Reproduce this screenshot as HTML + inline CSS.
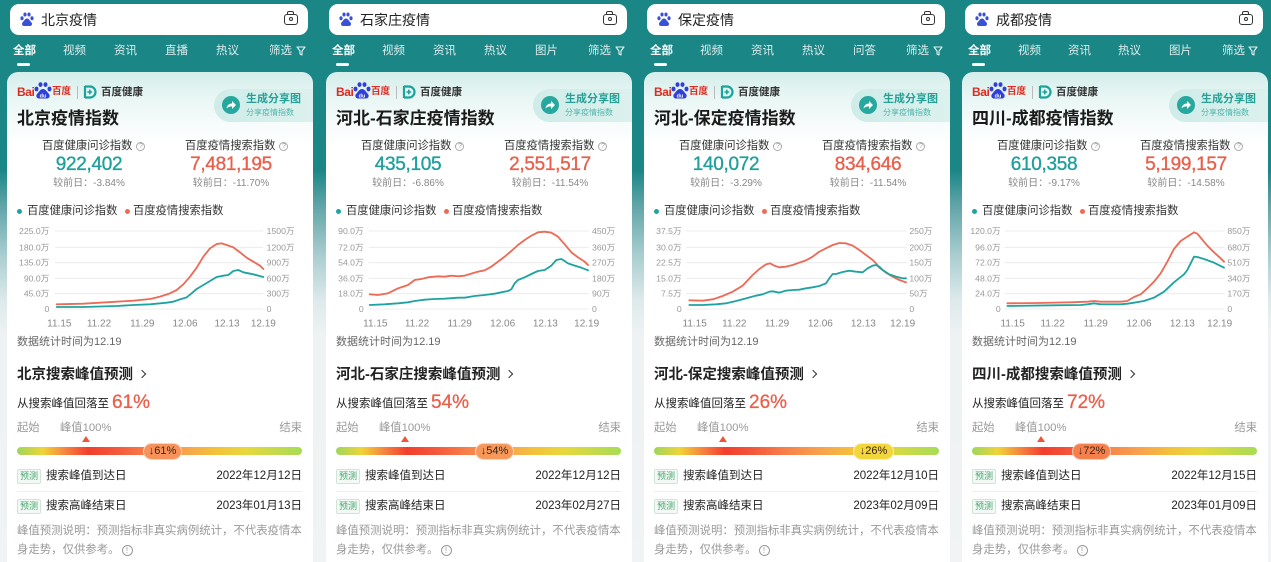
<!DOCTYPE html>
<html><head><meta charset="utf-8">
<style>
*{margin:0;padding:0;box-sizing:border-box}
html,body{width:1271px;height:562px;overflow:hidden}
body{position:relative;font-family:"Liberation Sans","Noto Sans CJK SC",sans-serif;background:linear-gradient(180deg,#1b8686 0,#1b8686 170px,#5fa4a7 205px,#a9cdd0 255px,#dde9eb 300px,#eef2f3 335px,#f1f3f4 100%)}
.p{position:absolute;top:0;width:317px;height:562px;overflow:hidden}
.t{position:absolute;white-space:nowrap;line-height:20px}
.sb{position:absolute;left:10px;top:4px;width:298px;height:31px;background:#fff;border-radius:9px}
.sb .paw{position:absolute;left:10px;top:8px}
.sb .q{position:absolute;left:31px;top:6px;font-size:14px;line-height:20px;color:#222}
.cam{position:absolute;left:274px;top:10px;width:14px;height:11px;border:1.6px solid #333;border-radius:3px}
.cam:before{content:"";position:absolute;left:2px;top:-4px;width:5px;height:3px;border:1.5px solid #333;border-bottom:none;border-radius:2px 2px 0 0}
.cam i{position:absolute;left:3.5px;top:2px;width:4px;height:4px;border:1.3px solid #333;border-radius:50%}
.tab{position:absolute;top:41px;font-size:11.5px;line-height:20px;color:rgba(255,255,255,.85);white-space:nowrap}
.tab.on{color:#fff;font-weight:bold}
.ul{position:absolute;left:17px;top:63px;width:13px;height:2.5px;background:#fff;border-radius:2px}
.card{position:absolute;left:7px;top:72px;width:306px;height:490px;border-radius:11px 11px 0 0;background:linear-gradient(180deg,#d4eeeb 0,#e8f6f4 25px,#f8fcfc 55px,#fff 75px)}
.bai{position:absolute;left:17px;top:85px;font-size:12px;font-weight:bold;color:#de2a1f;line-height:14px;letter-spacing:-.4px}
.bd{position:absolute;left:52px;top:85px;font-size:9.5px;font-weight:bold;color:#de2a1f;line-height:14px}
.sep{position:absolute;left:77px;top:86px;width:1px;height:13px;background:#bbb}
.hk{position:absolute;left:101px;top:85px;font-size:10.5px;font-weight:bold;color:#333;line-height:14px}
.ttl{position:absolute;left:17px;top:108px;font-size:17px;font-weight:bold;color:#1a1a1a;line-height:22px;white-space:nowrap}
.pill{position:absolute;left:214px;top:89px;width:99px;height:33px;border-radius:17px 0 0 17px;background:linear-gradient(90deg,#cfece8,#dcf1ee)}
.pc{position:absolute;left:222px;top:96px;width:18px;height:18px;border-radius:50%;background:#27a79e}
.s1{position:absolute;left:246px;top:91px;font-size:11px;font-weight:bold;color:#27a198;line-height:16px;white-space:nowrap}
.s2{position:absolute;left:246px;top:107px;font-size:8px;color:#53b5ac;line-height:12px;white-space:nowrap}
.ml{font-size:11.3px;color:#333;top:136px}
.qi{display:inline-block;width:9px;height:9px;border:1px solid #aaa;border-radius:50%;font-size:7px;line-height:7px;text-align:center;color:#999;vertical-align:1px;margin-left:4px}
.v{position:absolute;top:153px;width:130px;text-align:center;font-size:19px;line-height:24px;letter-spacing:-.3px;-webkit-text-stroke:.35px currentColor}
.v1{color:#1f9f9c}.v2{color:#e8604c}
.sub{position:absolute;top:176px;width:130px;text-align:center;font-size:10px;line-height:16px;color:#888}
.lg{top:201px;font-size:11.3px;color:#333}
.dot{position:absolute;top:209px;width:5px;height:5px;border-radius:50%}
.ch{position:absolute;left:0;top:195px}
.dt{left:17px;top:332px;font-size:11px;color:#666}
.sec{left:17px;top:364px;font-size:14.5px;font-weight:bold;color:#222;line-height:22px}
.chev{display:inline-block;width:6px;height:6px;border-right:1.6px solid #333;border-top:1.6px solid #333;transform:rotate(45deg);margin-left:6px;vertical-align:2px}
.dec{left:17px;top:391px;font-size:11.5px;color:#222;line-height:24px}
.dec b{font-size:19px;color:#e8604c;font-weight:normal;-webkit-text-stroke:.3px #e8604c;margin-left:3px;vertical-align:-1px}
.lb{top:418px;font-size:11.3px;color:#999}
.tri{position:absolute;left:82px;top:436px;width:0;height:0;border-left:4px solid transparent;border-right:4px solid transparent;border-bottom:6px solid #f0553a}
.bar{position:absolute;left:17px;top:447px;width:285px;height:8px;border-radius:4px;background:linear-gradient(90deg,#9dd65c 0%,#f0d438 9%,#f67a3e 18%,#f23e2d 25%,#f4543a 34%,#f7804a 46%,#f8a04e 58%,#f3c23b 70%,#e8d83c 80%,#a6dc56 100%)}
.bdg{position:absolute;top:443px;height:17px;border-radius:9px;font-size:11px;line-height:15px;text-align:center;color:#3a2418;border:1px solid rgba(255,255,255,.6)}
.tag{position:absolute;left:17px;width:24px;height:15px;border:1px solid #cfe6d6;background:#f3faf5;border-radius:2px;font-size:9px;line-height:13px;text-align:center;color:#46a56e}
.rt{left:46px;font-size:11.5px;color:#222}
.rd{right:15px;font-size:11.5px;color:#222}
.dv{position:absolute;left:17px;top:491px;width:285px;height:1px;background:#eee}
.nt{left:17px;font-size:11.4px;color:#999}
.ii{display:inline-block;width:11px;height:11px;border:1px solid #999;border-radius:50%;font-size:8px;line-height:9px;text-align:center;color:#999;vertical-align:0;margin-left:2px}
</style></head><body>

<!-- ================= PANEL 1 ================= -->
<div class="p" style="left:0">
<div class="sb"><svg class="paw" width="14" height="15" viewBox="0 0 14 15"><g fill="#3a50d6"><ellipse cx="2" cy="6.2" rx="1.6" ry="2"/><ellipse cx="5" cy="2.5" rx="1.6" ry="2"/><ellipse cx="9" cy="2.5" rx="1.6" ry="2"/><ellipse cx="12" cy="6.2" rx="1.6" ry="2"/><path d="M7 6.5c-2 0-3 2.5-4.5 4-1 1.2-.5 3.5 1.5 3.5h6c2 0 2.5-2.3 1.5-3.5C10 9 9 6.5 7 6.5z"/></g></svg><span class="q">北京疫情</span><div class="cam"><i></i></div></div>
<div class="tab on" style="left:13px">全部</div><div class="ul"></div>
<div class="tab" style="left:63px">视频</div><div class="tab" style="left:114px">资讯</div><div class="tab" style="left:165px">直播</div><div class="tab" style="left:216px">热议</div><div class="tab" style="left:269px">筛选</div>
<svg style="position:absolute;left:296px;top:46px" width="10" height="10" viewBox="0 0 10 10"><path d="M1 1h8L6 5v4L4 8V5z" fill="none" stroke="#e6f3f3" stroke-width="1.1" stroke-linejoin="round"/></svg>
<div class="card"></div>
<div class="bai">Bai</div>
<svg style="position:absolute;left:34px;top:82px" width="18" height="17" viewBox="0 0 18 17"><g fill="#2f3fd8"><ellipse cx="2.5" cy="7" rx="2" ry="2.4"/><ellipse cx="6.5" cy="2.6" rx="2" ry="2.4"/><ellipse cx="11.5" cy="2.6" rx="2" ry="2.4"/><ellipse cx="15.5" cy="7" rx="2" ry="2.4"/><path d="M9 7c-2.6 0-4 3-6 5-1.3 1.5-.6 4.5 2 4.5h8c2.6 0 3.3-3 2-4.5-2-2-3.4-5-6-5z"/></g><text x="9" y="15.3" font-size="5.5" fill="#fff" text-anchor="middle" font-family="Liberation Sans" font-weight="bold">du</text></svg>
<div class="bd">百度</div><div class="sep"></div>
<svg style="position:absolute;left:83px;top:85px" width="14" height="14" viewBox="0 0 14 14"><path d="M2 1.5h5a5.5 5.5 0 0 1 0 11H2" fill="none" stroke="#1aa39a" stroke-width="2.2"/><path d="M2 1v12" stroke="#1aa39a" stroke-width="2.2"/><path d="M6.8 4.6v4.8M4.4 7h4.8" stroke="#1aa39a" stroke-width="1.6"/></svg>
<div class="hk">百度健康</div>
<div class="pill"></div><div class="pc"><svg width="18" height="18" viewBox="0 0 18 18"><path d="M4.5 12.5C5 9 7.5 7.5 10 7.5V5l4 4-4 4v-2.6c-2.3 0-4 .6-5.5 2.1z" fill="#fff"/></svg></div>
<div class="s1">生成分享图</div><div class="s2">分享疫情指数</div>
<div class="ttl">北京疫情指数</div>
<div class="t ml" style="left:42px">百度健康问诊指数<span class="qi">?</span></div>
<div class="t ml" style="left:185px">百度疫情搜索指数<span class="qi">?</span></div>
<div class="v v1" style="left:24px">922,402</div><div class="v v2" style="left:166px">7,481,195</div>
<div class="sub" style="left:24px">较前日：-3.84%</div><div class="sub" style="left:166px">较前日：-11.70%</div>
<div class="dot" style="left:17px;background:#1fa3a0"></div><div class="t lg" style="left:27px">百度健康问诊指数</div>
<div class="dot" style="left:125px;background:#ec6b56"></div><div class="t lg" style="left:133px">百度疫情搜索指数</div>
<svg class="ch" width="317" height="140" viewBox="0 0 951 420">
<g stroke="#ececec" stroke-width="3"><line x1="165" y1="108" x2="790" y2="108"/><line x1="165" y1="157" x2="790" y2="157"/><line x1="165" y1="203" x2="790" y2="203"/><line x1="165" y1="250" x2="790" y2="250"/><line x1="165" y1="296" x2="790" y2="296"/><line x1="165" y1="342" x2="790" y2="342"/></g>
<g font-family="Liberation Sans,Noto Sans CJK SC,sans-serif" font-size="26" fill="#999"><g text-anchor="end"><text x="148" y="117">225.0万</text><text x="148" y="166">180.0万</text><text x="148" y="212">135.0万</text><text x="148" y="259">90.0万</text><text x="148" y="305">45.0万</text><text x="148" y="351">0</text></g>
<text x="800" y="117">1500万</text><text x="800" y="166">1200万</text><text x="800" y="212">900万</text><text x="800" y="259">600万</text><text x="800" y="305">300万</text><text x="800" y="351">0</text>
<g font-size="30" fill="#888" text-anchor="middle"><text x="178" y="395">11.15</text><text x="297" y="395">11.22</text><text x="427" y="395">11.29</text><text x="555" y="395">12.06</text><text x="681" y="395">12.13</text><text x="790" y="395">12.19</text></g></g>
<polyline fill="none" stroke="#ec6b56" stroke-width="5.5" stroke-linejoin="round" stroke-linecap="round" points="170,328 250,326 350,320 400,317 450,312 480,305 510,295 530,285 550,268 570,245 590,218 610,185 630,160 650,147 665,145 680,150 700,157 720,172 740,188 760,200 780,212 790,222"/>
<polyline fill="none" stroke="#1fa3a0" stroke-width="5.5" stroke-linejoin="round" stroke-linecap="round" points="170,336 250,336 350,333 400,330 450,328 500,323 520,320 540,313 560,307 575,295 590,282 610,270 630,258 650,246 670,242 685,240 700,228 715,225 730,232 745,235 760,238 790,246"/>
</svg>
<div class="t dt">数据统计时间为12.19</div>
<div class="t sec">北京搜索峰值预测<span class="chev"></span></div>
<div class="t dec">从搜索峰值回落至<b>61%</b></div>
<div class="t lb" style="left:17px">起始</div><div class="t lb" style="left:60px">峰值100%</div><div class="t lb" style="right:15px">结束</div>
<div class="tri"></div><div class="bar"></div>
<div class="bdg" style="left:143px;width:39px;background:#f6925a">↓61%</div>
<div class="tag" style="top:469px">预测</div><div class="t rt" style="top:466px">搜索峰值到达日</div><div class="t rd" style="top:466px">2022年12月12日</div>
<div class="dv"></div>
<div class="tag" style="top:499px">预测</div><div class="t rt" style="top:496px">搜索高峰结束日</div><div class="t rd" style="top:496px">2023年01月13日</div>
<div class="t nt" style="top:521px">峰值预测说明：预测指标非真实病例统计，不代表疫情本</div>
<div class="t nt" style="top:540px">身走势，仅供参考。<span class="ii">!</span></div>
</div>

<!-- ================= PANEL 2 ================= -->
<div class="p" style="left:319px">
<div class="sb"><svg class="paw" width="14" height="15" viewBox="0 0 14 15"><g fill="#3a50d6"><ellipse cx="2" cy="6.2" rx="1.6" ry="2"/><ellipse cx="5" cy="2.5" rx="1.6" ry="2"/><ellipse cx="9" cy="2.5" rx="1.6" ry="2"/><ellipse cx="12" cy="6.2" rx="1.6" ry="2"/><path d="M7 6.5c-2 0-3 2.5-4.5 4-1 1.2-.5 3.5 1.5 3.5h6c2 0 2.5-2.3 1.5-3.5C10 9 9 6.5 7 6.5z"/></g></svg><span class="q">石家庄疫情</span><div class="cam"><i></i></div></div>
<div class="tab on" style="left:13px">全部</div><div class="ul"></div>
<div class="tab" style="left:63px">视频</div><div class="tab" style="left:114px">资讯</div><div class="tab" style="left:165px">热议</div><div class="tab" style="left:216px">图片</div><div class="tab" style="left:269px">筛选</div>
<svg style="position:absolute;left:296px;top:46px" width="10" height="10" viewBox="0 0 10 10"><path d="M1 1h8L6 5v4L4 8V5z" fill="none" stroke="#e6f3f3" stroke-width="1.1" stroke-linejoin="round"/></svg>
<div class="card"></div>
<div class="bai">Bai</div>
<svg style="position:absolute;left:34px;top:82px" width="18" height="17" viewBox="0 0 18 17"><g fill="#2f3fd8"><ellipse cx="2.5" cy="7" rx="2" ry="2.4"/><ellipse cx="6.5" cy="2.6" rx="2" ry="2.4"/><ellipse cx="11.5" cy="2.6" rx="2" ry="2.4"/><ellipse cx="15.5" cy="7" rx="2" ry="2.4"/><path d="M9 7c-2.6 0-4 3-6 5-1.3 1.5-.6 4.5 2 4.5h8c2.6 0 3.3-3 2-4.5-2-2-3.4-5-6-5z"/></g><text x="9" y="15.3" font-size="5.5" fill="#fff" text-anchor="middle" font-family="Liberation Sans" font-weight="bold">du</text></svg>
<div class="bd">百度</div><div class="sep"></div>
<svg style="position:absolute;left:83px;top:85px" width="14" height="14" viewBox="0 0 14 14"><path d="M2 1.5h5a5.5 5.5 0 0 1 0 11H2" fill="none" stroke="#1aa39a" stroke-width="2.2"/><path d="M2 1v12" stroke="#1aa39a" stroke-width="2.2"/><path d="M6.8 4.6v4.8M4.4 7h4.8" stroke="#1aa39a" stroke-width="1.6"/></svg>
<div class="hk">百度健康</div>
<div class="pill"></div><div class="pc"><svg width="18" height="18" viewBox="0 0 18 18"><path d="M4.5 12.5C5 9 7.5 7.5 10 7.5V5l4 4-4 4v-2.6c-2.3 0-4 .6-5.5 2.1z" fill="#fff"/></svg></div>
<div class="s1">生成分享图</div><div class="s2">分享疫情指数</div>
<div class="ttl">河北-石家庄疫情指数</div>
<div class="t ml" style="left:42px">百度健康问诊指数<span class="qi">?</span></div>
<div class="t ml" style="left:185px">百度疫情搜索指数<span class="qi">?</span></div>
<div class="v v1" style="left:24px">435,105</div><div class="v v2" style="left:166px">2,551,517</div>
<div class="sub" style="left:24px">较前日：-6.86%</div><div class="sub" style="left:166px">较前日：-11.54%</div>
<div class="dot" style="left:17px;background:#1fa3a0"></div><div class="t lg" style="left:27px">百度健康问诊指数</div>
<div class="dot" style="left:125px;background:#ec6b56"></div><div class="t lg" style="left:133px">百度疫情搜索指数</div>
<svg class="ch" style="left:-1px" width="317" height="140" viewBox="0 0 951 420">
<g stroke="#ececec" stroke-width="3"><line x1="152" y1="108" x2="812" y2="108"/><line x1="152" y1="157" x2="812" y2="157"/><line x1="152" y1="203" x2="812" y2="203"/><line x1="152" y1="250" x2="812" y2="250"/><line x1="152" y1="296" x2="812" y2="296"/><line x1="152" y1="342" x2="812" y2="342"/></g>
<g font-family="Liberation Sans,Noto Sans CJK SC,sans-serif" font-size="26" fill="#999"><g text-anchor="end"><text x="137" y="117">90.0万</text><text x="137" y="166">72.0万</text><text x="137" y="212">54.0万</text><text x="137" y="259">36.0万</text><text x="137" y="305">18.0万</text><text x="137" y="351">0</text></g>
<text x="822" y="117">450万</text><text x="822" y="166">360万</text><text x="822" y="212">270万</text><text x="822" y="259">180万</text><text x="822" y="305">90万</text><text x="822" y="351">0</text>
<g font-size="30" fill="#888" text-anchor="middle"><text x="172" y="395">11.15</text><text x="297" y="395">11.22</text><text x="425" y="395">11.29</text><text x="554" y="395">12.06</text><text x="682" y="395">12.13</text><text x="806" y="395">12.19</text></g></g>
<polyline fill="none" stroke="#ec6b56" stroke-width="5.5" stroke-linejoin="round" stroke-linecap="round" points="155,298 180,300 210,295 240,280 270,270 290,255 310,252 330,247 360,244 380,245 400,242 420,244 440,242 460,236 480,230 500,226 520,215 540,200 560,185 580,168 600,150 620,135 640,122 660,112 680,110 700,113 720,125 740,148 760,172 780,187 800,200 810,210"/>
<polyline fill="none" stroke="#1fa3a0" stroke-width="5.5" stroke-linejoin="round" stroke-linecap="round" points="155,330 200,328 240,325 270,322 290,318 320,314 350,312 380,311 420,308 440,308 470,303 500,300 530,296 550,292 570,288 580,283 590,265 600,255 620,247 640,237 660,228 680,225 700,212 715,195 730,192 740,198 750,205 770,212 790,218 810,226"/>
</svg>
<div class="t dt">数据统计时间为12.19</div>
<div class="t sec">河北-石家庄搜索峰值预测<span class="chev"></span></div>
<div class="t dec">从搜索峰值回落至<b>54%</b></div>
<div class="t lb" style="left:17px">起始</div><div class="t lb" style="left:60px">峰值100%</div><div class="t lb" style="right:15px">结束</div>
<div class="tri"></div><div class="bar"></div>
<div class="bdg" style="left:156px;width:39px;background:#f6985a">↓54%</div>
<div class="tag" style="top:469px">预测</div><div class="t rt" style="top:466px">搜索峰值到达日</div><div class="t rd" style="top:466px">2022年12月12日</div>
<div class="dv"></div>
<div class="tag" style="top:499px">预测</div><div class="t rt" style="top:496px">搜索高峰结束日</div><div class="t rd" style="top:496px">2023年02月27日</div>
<div class="t nt" style="top:521px">峰值预测说明：预测指标非真实病例统计，不代表疫情本</div>
<div class="t nt" style="top:540px">身走势，仅供参考。<span class="ii">!</span></div>
</div>

<!-- ================= PANEL 3 ================= -->
<div class="p" style="left:637px">
<div class="sb"><svg class="paw" width="14" height="15" viewBox="0 0 14 15"><g fill="#3a50d6"><ellipse cx="2" cy="6.2" rx="1.6" ry="2"/><ellipse cx="5" cy="2.5" rx="1.6" ry="2"/><ellipse cx="9" cy="2.5" rx="1.6" ry="2"/><ellipse cx="12" cy="6.2" rx="1.6" ry="2"/><path d="M7 6.5c-2 0-3 2.5-4.5 4-1 1.2-.5 3.5 1.5 3.5h6c2 0 2.5-2.3 1.5-3.5C10 9 9 6.5 7 6.5z"/></g></svg><span class="q">保定疫情</span><div class="cam"><i></i></div></div>
<div class="tab on" style="left:13px">全部</div><div class="ul"></div>
<div class="tab" style="left:63px">视频</div><div class="tab" style="left:114px">资讯</div><div class="tab" style="left:165px">热议</div><div class="tab" style="left:216px">问答</div><div class="tab" style="left:269px">筛选</div>
<svg style="position:absolute;left:296px;top:46px" width="10" height="10" viewBox="0 0 10 10"><path d="M1 1h8L6 5v4L4 8V5z" fill="none" stroke="#e6f3f3" stroke-width="1.1" stroke-linejoin="round"/></svg>
<div class="card"></div>
<div class="bai">Bai</div>
<svg style="position:absolute;left:34px;top:82px" width="18" height="17" viewBox="0 0 18 17"><g fill="#2f3fd8"><ellipse cx="2.5" cy="7" rx="2" ry="2.4"/><ellipse cx="6.5" cy="2.6" rx="2" ry="2.4"/><ellipse cx="11.5" cy="2.6" rx="2" ry="2.4"/><ellipse cx="15.5" cy="7" rx="2" ry="2.4"/><path d="M9 7c-2.6 0-4 3-6 5-1.3 1.5-.6 4.5 2 4.5h8c2.6 0 3.3-3 2-4.5-2-2-3.4-5-6-5z"/></g><text x="9" y="15.3" font-size="5.5" fill="#fff" text-anchor="middle" font-family="Liberation Sans" font-weight="bold">du</text></svg>
<div class="bd">百度</div><div class="sep"></div>
<svg style="position:absolute;left:83px;top:85px" width="14" height="14" viewBox="0 0 14 14"><path d="M2 1.5h5a5.5 5.5 0 0 1 0 11H2" fill="none" stroke="#1aa39a" stroke-width="2.2"/><path d="M2 1v12" stroke="#1aa39a" stroke-width="2.2"/><path d="M6.8 4.6v4.8M4.4 7h4.8" stroke="#1aa39a" stroke-width="1.6"/></svg>
<div class="hk">百度健康</div>
<div class="pill"></div><div class="pc"><svg width="18" height="18" viewBox="0 0 18 18"><path d="M4.5 12.5C5 9 7.5 7.5 10 7.5V5l4 4-4 4v-2.6c-2.3 0-4 .6-5.5 2.1z" fill="#fff"/></svg></div>
<div class="s1">生成分享图</div><div class="s2">分享疫情指数</div>
<div class="ttl">河北-保定疫情指数</div>
<div class="t ml" style="left:42px">百度健康问诊指数<span class="qi">?</span></div>
<div class="t ml" style="left:185px">百度疫情搜索指数<span class="qi">?</span></div>
<div class="v v1" style="left:24px">140,072</div><div class="v v2" style="left:166px">834,646</div>
<div class="sub" style="left:24px">较前日：-3.29%</div><div class="sub" style="left:166px">较前日：-11.54%</div>
<div class="dot" style="left:17px;background:#1fa3a0"></div><div class="t lg" style="left:27px">百度健康问诊指数</div>
<div class="dot" style="left:125px;background:#ec6b56"></div><div class="t lg" style="left:133px">百度疫情搜索指数</div>
<svg class="ch" style="left:-1px" width="317" height="140" viewBox="0 0 951 420">
<g stroke="#ececec" stroke-width="3"><line x1="150" y1="108" x2="812" y2="108"/><line x1="150" y1="157" x2="812" y2="157"/><line x1="150" y1="203" x2="812" y2="203"/><line x1="150" y1="250" x2="812" y2="250"/><line x1="150" y1="296" x2="812" y2="296"/><line x1="150" y1="342" x2="812" y2="342"/></g>
<g font-family="Liberation Sans,Noto Sans CJK SC,sans-serif" font-size="26" fill="#999"><g text-anchor="end"><text x="137" y="117">37.5万</text><text x="137" y="166">30.0万</text><text x="137" y="212">22.5万</text><text x="137" y="259">15.0万</text><text x="137" y="305">7.5万</text><text x="137" y="351">0</text></g>
<text x="820" y="117">250万</text><text x="820" y="166">200万</text><text x="820" y="212">150万</text><text x="820" y="259">100万</text><text x="820" y="305">50万</text><text x="820" y="351">0</text>
<g font-size="30" fill="#888" text-anchor="middle"><text x="176" y="395">11.15</text><text x="295" y="395">11.22</text><text x="423" y="395">11.29</text><text x="553" y="395">12.06</text><text x="682" y="395">12.13</text><text x="800" y="395">12.19</text></g></g>
<polyline fill="none" stroke="#ec6b56" stroke-width="5.5" stroke-linejoin="round" stroke-linecap="round" points="160,316 200,317 230,313 260,303 290,290 320,272 350,240 370,222 390,208 402,205 415,212 430,217 450,215 470,210 490,203 510,196 530,185 550,170 570,160 590,150 610,144 630,145 650,152 670,165 690,180 710,195 720,205 730,218 750,233 770,245 790,255 810,262"/>
<polyline fill="none" stroke="#1fa3a0" stroke-width="5.5" stroke-linejoin="round" stroke-linecap="round" points="160,330 200,330 240,328 270,325 300,318 330,310 360,302 380,298 400,290 410,289 430,293 450,287 470,285 490,284 510,280 530,277 550,273 570,265 580,250 590,237 600,237 620,231 640,227 660,230 680,232 695,220 710,212 720,210 730,215 740,225 760,238 780,245 800,250 810,250"/>
</svg>
<div class="t dt">数据统计时间为12.19</div>
<div class="t sec">河北-保定搜索峰值预测<span class="chev"></span></div>
<div class="t dec">从搜索峰值回落至<b>26%</b></div>
<div class="t lb" style="left:17px">起始</div><div class="t lb" style="left:60px">峰值100%</div><div class="t lb" style="right:15px">结束</div>
<div class="tri"></div><div class="bar"></div>
<div class="bdg" style="left:216px;width:41px;background:#f3d53c">↓26%</div>
<div class="tag" style="top:469px">预测</div><div class="t rt" style="top:466px">搜索峰值到达日</div><div class="t rd" style="top:466px">2022年12月10日</div>
<div class="dv"></div>
<div class="tag" style="top:499px">预测</div><div class="t rt" style="top:496px">搜索高峰结束日</div><div class="t rd" style="top:496px">2023年02月09日</div>
<div class="t nt" style="top:521px">峰值预测说明：预测指标非真实病例统计，不代表疫情本</div>
<div class="t nt" style="top:540px">身走势，仅供参考。<span class="ii">!</span></div>
</div>

<!-- ================= PANEL 4 ================= -->
<div class="p" style="left:955px">
<div class="sb"><svg class="paw" width="14" height="15" viewBox="0 0 14 15"><g fill="#3a50d6"><ellipse cx="2" cy="6.2" rx="1.6" ry="2"/><ellipse cx="5" cy="2.5" rx="1.6" ry="2"/><ellipse cx="9" cy="2.5" rx="1.6" ry="2"/><ellipse cx="12" cy="6.2" rx="1.6" ry="2"/><path d="M7 6.5c-2 0-3 2.5-4.5 4-1 1.2-.5 3.5 1.5 3.5h6c2 0 2.5-2.3 1.5-3.5C10 9 9 6.5 7 6.5z"/></g></svg><span class="q">成都疫情</span><div class="cam"><i></i></div></div>
<div class="tab on" style="left:13px">全部</div><div class="ul"></div>
<div class="tab" style="left:63px">视频</div><div class="tab" style="left:113px">资讯</div><div class="tab" style="left:163px">热议</div><div class="tab" style="left:214px">图片</div><div class="tab" style="left:267px">筛选</div>
<svg style="position:absolute;left:293px;top:46px" width="10" height="10" viewBox="0 0 10 10"><path d="M1 1h8L6 5v4L4 8V5z" fill="none" stroke="#e6f3f3" stroke-width="1.1" stroke-linejoin="round"/></svg>
<div class="card"></div>
<div class="bai">Bai</div>
<svg style="position:absolute;left:34px;top:82px" width="18" height="17" viewBox="0 0 18 17"><g fill="#2f3fd8"><ellipse cx="2.5" cy="7" rx="2" ry="2.4"/><ellipse cx="6.5" cy="2.6" rx="2" ry="2.4"/><ellipse cx="11.5" cy="2.6" rx="2" ry="2.4"/><ellipse cx="15.5" cy="7" rx="2" ry="2.4"/><path d="M9 7c-2.6 0-4 3-6 5-1.3 1.5-.6 4.5 2 4.5h8c2.6 0 3.3-3 2-4.5-2-2-3.4-5-6-5z"/></g><text x="9" y="15.3" font-size="5.5" fill="#fff" text-anchor="middle" font-family="Liberation Sans" font-weight="bold">du</text></svg>
<div class="bd">百度</div><div class="sep"></div>
<svg style="position:absolute;left:83px;top:85px" width="14" height="14" viewBox="0 0 14 14"><path d="M2 1.5h5a5.5 5.5 0 0 1 0 11H2" fill="none" stroke="#1aa39a" stroke-width="2.2"/><path d="M2 1v12" stroke="#1aa39a" stroke-width="2.2"/><path d="M6.8 4.6v4.8M4.4 7h4.8" stroke="#1aa39a" stroke-width="1.6"/></svg>
<div class="hk">百度健康</div>
<div class="pill"></div><div class="pc"><svg width="18" height="18" viewBox="0 0 18 18"><path d="M4.5 12.5C5 9 7.5 7.5 10 7.5V5l4 4-4 4v-2.6c-2.3 0-4 .6-5.5 2.1z" fill="#fff"/></svg></div>
<div class="s1">生成分享图</div><div class="s2">分享疫情指数</div>
<div class="ttl">四川-成都疫情指数</div>
<div class="t ml" style="left:42px">百度健康问诊指数<span class="qi">?</span></div>
<div class="t ml" style="left:185px">百度疫情搜索指数<span class="qi">?</span></div>
<div class="v v1" style="left:24px">610,358</div><div class="v v2" style="left:166px">5,199,157</div>
<div class="sub" style="left:24px">较前日：-9.17%</div><div class="sub" style="left:166px">较前日：-14.58%</div>
<div class="dot" style="left:17px;background:#1fa3a0"></div><div class="t lg" style="left:27px">百度健康问诊指数</div>
<div class="dot" style="left:125px;background:#ec6b56"></div><div class="t lg" style="left:133px">百度疫情搜索指数</div>
<svg class="ch" style="left:-1px" width="317" height="140" viewBox="0 0 951 420">
<g stroke="#ececec" stroke-width="3"><line x1="152" y1="108" x2="812" y2="108"/><line x1="152" y1="157" x2="812" y2="157"/><line x1="152" y1="203" x2="812" y2="203"/><line x1="152" y1="250" x2="812" y2="250"/><line x1="152" y1="296" x2="812" y2="296"/><line x1="152" y1="342" x2="812" y2="342"/></g>
<g font-family="Liberation Sans,Noto Sans CJK SC,sans-serif" font-size="26" fill="#999"><g text-anchor="end"><text x="140" y="117">120.0万</text><text x="140" y="166">96.0万</text><text x="140" y="212">72.0万</text><text x="140" y="259">48.0万</text><text x="140" y="305">24.0万</text><text x="140" y="351">0</text></g>
<text x="820" y="117">850万</text><text x="820" y="166">680万</text><text x="820" y="212">510万</text><text x="820" y="259">340万</text><text x="820" y="305">170万</text><text x="820" y="351">0</text>
<g font-size="30" fill="#888" text-anchor="middle"><text x="176" y="395">11.15</text><text x="296" y="395">11.22</text><text x="425" y="395">11.29</text><text x="555" y="395">12.06</text><text x="685" y="395">12.13</text><text x="797" y="395">12.19</text></g></g>
<polyline fill="none" stroke="#ec6b56" stroke-width="5.5" stroke-linejoin="round" stroke-linecap="round" points="160,325 250,324 350,322 400,320 420,318 440,320 500,320 520,318 540,306 560,298 580,280 600,260 620,235 640,200 660,162 680,138 700,125 720,112 730,116 740,128 760,152 780,172 800,190 810,200"/>
<polyline fill="none" stroke="#1fa3a0" stroke-width="5.5" stroke-linejoin="round" stroke-linecap="round" points="160,333 300,331 380,330 400,328 420,325 440,328 500,328 520,326 540,323 570,318 600,308 630,290 660,262 690,238 700,225 720,185 730,186 750,192 780,203 810,218"/>
</svg>
<div class="t dt">数据统计时间为12.19</div>
<div class="t sec">四川-成都搜索峰值预测<span class="chev"></span></div>
<div class="t dec">从搜索峰值回落至<b>72%</b></div>
<div class="t lb" style="left:17px">起始</div><div class="t lb" style="left:60px">峰值100%</div><div class="t lb" style="right:15px">结束</div>
<div class="tri"></div><div class="bar"></div>
<div class="bdg" style="left:117px;width:39px;background:#f5804c">↓72%</div>
<div class="tag" style="top:469px">预测</div><div class="t rt" style="top:466px">搜索峰值到达日</div><div class="t rd" style="top:466px">2022年12月15日</div>
<div class="dv"></div>
<div class="tag" style="top:499px">预测</div><div class="t rt" style="top:496px">搜索高峰结束日</div><div class="t rd" style="top:496px">2023年01月09日</div>
<div class="t nt" style="top:521px">峰值预测说明：预测指标非真实病例统计，不代表疫情本</div>
<div class="t nt" style="top:540px">身走势，仅供参考。<span class="ii">!</span></div>
</div>

</body></html>
